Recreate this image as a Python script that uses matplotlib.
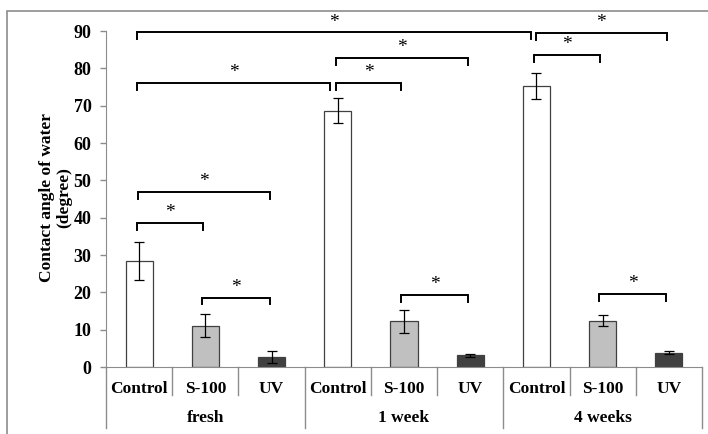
import matplotlib
matplotlib.use("Agg")
import matplotlib.pyplot as plt
from matplotlib.patches import Rectangle

# ---- data ----
groups = ["fresh", "1 week", "4 weeks"]
treatments = ["Control", "S-100", "UV"]
means = [28.4, 11.1, 2.7, 68.7, 12.2, 3.1, 75.3, 12.4, 3.8]
errors = [5.2, 3.0, 1.6, 3.3, 3.0, 0.5, 3.5, 1.4, 0.4]
bar_colors = ["#ffffff", "#c0c0c0", "#404040"]
# significance brackets: (x_start, x_end, height)
br_x1 = [-0.03, -0.01, 0.95, -0.03, -0.03, 2.97, 2.97, 3.96, 5.96, 5.99, 6.95]
br_x2 = [0.97, 1.98, 1.97, 2.89, 5.92, 3.96, 4.97, 4.96, 6.96, 7.97, 7.95]
br_y = [38.6, 46.9, 18.6, 76.0, 89.6, 76.0, 82.8, 19.2, 83.5, 89.5, 19.5]

plt.rcParams['font.family'] = ['Liberation Serif', 'DejaVu Serif']

fig = plt.figure(figsize=(7.08, 4.34), dpi=100)
# outer border
fig.patches.append(Rectangle((7/708, -0.1), 1.2, 1 - 11/434 + 0.1, transform=fig.transFigure,
                             fill=False, edgecolor="#8c8c8c", lw=1.2))
ax = fig.add_axes([106/708, 1 - 367/434, (702 - 106)/708, (367 - 31)/434])

n = len(means)
xs = list(range(n))
cols = [bar_colors[i % 3] for i in range(n)]
ax.bar(xs, means, width=0.41, color=cols, edgecolor="#404040", linewidth=0.9, zorder=2)
ax.errorbar(xs, means, yerr=errors, fmt="none", ecolor="black", elinewidth=0.9,
            capsize=3.5, capthick=0.9, zorder=3)

ax.set_xlim(-0.5, n - 0.5)
ax.set_ylim(0, 90)
ax.set_yticks(range(0, 91, 10))
ax.set_yticklabels([str(v) for v in range(0, 91, 10)], fontsize=13, fontweight="bold")
ax.tick_params(axis="y", direction="out", length=4.5, color="#8c8c8c", width=1, pad=6)
ax.set_xticks([])
for s in ["top", "right"]:
    ax.spines[s].set_visible(False)
ax.spines["left"].set_color("#8c8c8c")
ax.spines["bottom"].set_color("#8c8c8c")

fig.text(56/708, 1 - 198/434, "Contact angle of water\n(degree)", rotation=90,
         ha="center", va="center", fontsize=12.5, fontweight="bold", linespacing=1.1,
         multialignment="center")

# brackets
leg = 1.8
for x1, x2, y in zip(br_x1, br_x2, br_y):
    ax.plot([x1, x1, x2, x2], [y - leg, y, y, y - leg], color="black", lw=1.4,
            clip_on=False, zorder=4, solid_joinstyle="miter")
    ax.text((x1 + x2) / 2, y + 0.5, "*", ha="center", va="bottom", fontsize=14, zorder=4)

# category axis
tr = ax.get_xaxis_transform()
for i in range(n):
    ax.text(i, -0.065, treatments[i % 3], transform=tr, ha="center", va="center",
            fontsize=12.5, fontweight="bold")
for b in range(n + 1):
    xb = b - 0.5
    if b % 3 == 0:
        ax.plot([xb, xb], [0, -0.182], transform=tr, color="#8c8c8c", lw=1, clip_on=False)
    else:
        ax.plot([xb, xb], [0, -0.083], transform=tr, color="#8c8c8c", lw=1, clip_on=False)
for g, name in enumerate(groups):
    ax.text(3 * g + 1, -0.152, name, transform=tr, ha="center", va="center",
            fontsize=12.5, fontweight="bold")

fig.savefig("out.png", dpi=100)
